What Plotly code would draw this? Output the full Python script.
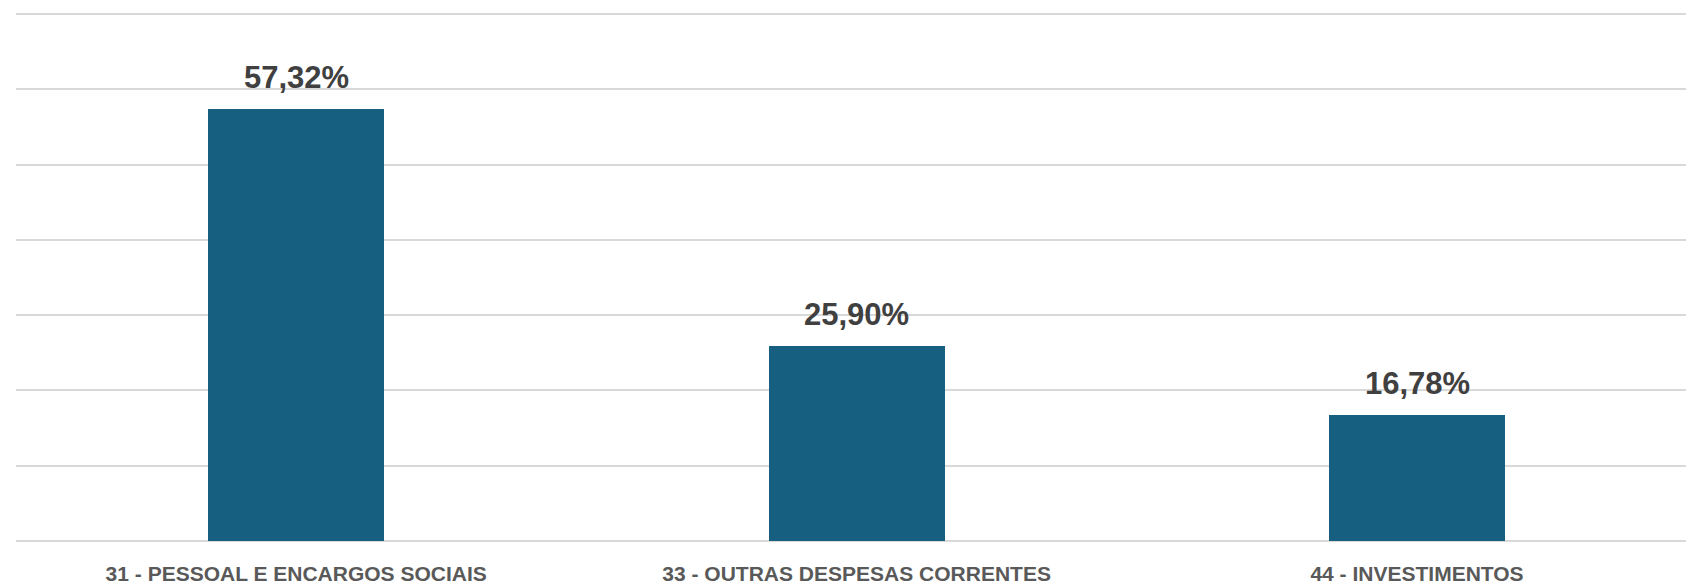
import plotly.graph_objects as go

categories = ["31 - PESSOAL E ENCARGOS SOCIAIS", "33 - OUTRAS DESPESAS CORRENTES", "44 - INVESTIMENTOS"]
values = [0.5732, 0.2590, 0.1678]
labels = ["57,32%", "25,90%", "16,78%"]

fig = go.Figure()
fig.add_trace(go.Bar(
    x=list(range(len(categories))), y=values,
    marker=dict(color="#175F80", line=dict(width=0)),
    width=0.314,
))
for i, (v, t) in enumerate(zip(values, labels)):
    fig.add_annotation(x=i, y=v, text="<b>%s</b>" % t, showarrow=False,
                       yanchor="bottom", yshift=12,
                       font=dict(family="Liberation Sans, Arial, sans-serif", size=31, color="#404040"))

fig.update_layout(
    width=1686, height=586,
    margin=dict(l=16, r=0, t=12, b=45, autoexpand=False),
    paper_bgcolor="white", plot_bgcolor="white",
    showlegend=False,
    bargap=0,
    xaxis=dict(
        range=[-0.5, 2.48],
        tickmode="array", tickvals=list(range(len(categories))),
        ticktext=["<b>%s</b>" % c for c in categories],
        tickfont=dict(family="Liberation Sans, Arial, sans-serif", size=21, color="#595959"),
        showgrid=False, zeroline=False, showline=False, ticks="",
        ticklabelstandoff=18, automargin=False,
    ),
    yaxis=dict(
        range=[0, 0.7027], tickvals=[0, 0.1, 0.2, 0.3, 0.4, 0.5, 0.6, 0.7],
        showticklabels=False, showgrid=True, gridcolor="#D9D9D9", gridwidth=2,
        zeroline=True, zerolinecolor="#D9D9D9", zerolinewidth=2,
        showline=False, ticks="", automargin=False,
    ),
)
fig.write_html("out.html", config={"displayModeBar": False},
               post_script="document.body.style.margin='0px';document.body.style.overflow='hidden';")
